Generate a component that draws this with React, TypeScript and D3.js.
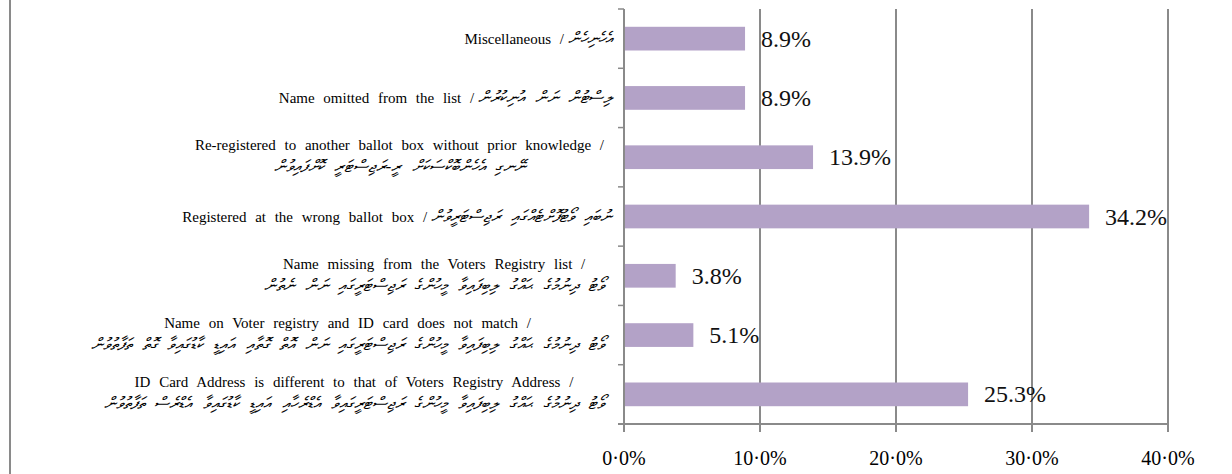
import React, { useEffect, useRef } from "react";
import * as d3 from "d3";

// top to bottom, as drawn
const categories = [
  "Miscellaneous",
  "Name omitted",
  "Re-registered",
  "Wrong ballot box",
  "Name missing",
  "Name mismatch",
  "Address different",
];

const labelLines = [
  ["Miscellaneous / ", "އެހެނިހެން"],
  ["Name omitted from the list / ", "ލިސްޓުން ނަން އުނިކުރުން"],
  [
    "Re-registered to another ballot box without prior knowledge /",
    "ނޭނގި އެހެންބޮކްސަކަށް ރީ-ރަޖިސްޓަރީ ކޮށްފައިވުން",
  ],
  ["Registered at the wrong ballot box /", "ނުބައި ވޯޓުފޮށްޓެއްގައި ރަޖިސްޓަރީވުން"],
  [
    "Name missing from the Voters Registry  list /",
    "ވޯޓު ދިނުމުގެ ޙައްގު ލިބިފައިވާ މީހުންގެ ރަޖިސްޓަރީގައި ނަން ނެތުން",
  ],
  [
    "Name on Voter registry and ID card does not match /",
    "ވޯޓު ދިނުމުގެ ޙައްގު ލިބިފައިވާ މީހުންގެ ރަޖިސްޓަރީގައި ނަން އޮތް ގޮތާއި އައިޑީ ކާޑުގައިވާ ގޮތް ތަފާތުވުން",
  ],
  [
    "ID Card Address is different to that of Voters Registry Address /",
    "ވޯޓު ދިނުމުގެ ޙައްގު ލިބިފައިވާ މީހުންގެ ރަޖިސްޓަރީގައިވާ އެޑްރެހާއި އައިޑީ ކާޑުގައިވާ އެޑްރެސް ތަފާތުވުން",
  ],
];
// which labels put the English and Dhivehi parts on one line
const singleLine = [true, true, false, true, false, false, false];

const values = [8.9, 8.9, 13.9, 34.2, 3.8, 5.1, 25.3];
const xTicks = [0, 10, 20, 30, 40];

const W = 1232, H = 474;
const serif = "Liberation Serif, Times New Roman, serif";
const thaanaFont = "DejaVu Sans, Noto Sans, sans-serif";
const grey = "#8a8a8a";

export default function App() {
  const ref = useRef<SVGSVGElement>(null);

  useEffect(() => {
    const svg = d3.select(ref.current);
    svg.selectAll("*").remove();

    const x = d3.scaleLinear().domain([0, 40]).range([624, 1168]);
    const y = d3.scaleBand().domain(categories).range([9, 424]).paddingInner(0.6).paddingOuter(0.3);
    const step = y.step();

    // outer frame line on the left
    svg.append("line")
      .attr("x1", 10).attr("x2", 10).attr("y1", 0).attr("y2", H)
      .attr("stroke", grey).attr("stroke-width", 2);

    // vertical gridlines + ticks below axis
    svg.append("g").selectAll("line")
      .data(xTicks)
      .join("line")
      .attr("x1", d => x(d)).attr("x2", d => x(d))
      .attr("y1", 9).attr("y2", 432)
      .attr("stroke", grey).attr("stroke-width", 2);

    // x axis line
    svg.append("line")
      .attr("x1", x(0) - 6).attr("x2", x(40)).attr("y1", 424).attr("y2", 424)
      .attr("stroke", grey).attr("stroke-width", 2);

    // y axis ticks at band boundaries
    svg.append("g").selectAll("line")
      .data(d3.range(categories.length + 1))
      .join("line")
      .attr("x1", x(0) - 6).attr("x2", x(0))
      .attr("y1", i => 9 + i * step).attr("y2", i => 9 + i * step)
      .attr("stroke", grey).attr("stroke-width", 1.5);

    // tick labels
    svg.append("g").selectAll("text")
      .data(xTicks)
      .join("text")
      .attr("x", d => x(d)).attr("y", 465)
      .attr("text-anchor", "middle")
      .attr("font-family", serif).attr("font-size", 20)
      .text(d => d.toFixed(1).replace(".", "·") + "%");

    // bars
    svg.append("g").selectAll("rect")
      .data(values)
      .join("rect")
      .attr("x", x(0) + 1)
      .attr("y", (d, i) => y(categories[i])!)
      .attr("width", d => x(d) - x(0) - 1)
      .attr("height", y.bandwidth())
      .attr("fill", "#b3a2c7");

    // value labels
    svg.append("g").selectAll("text")
      .data(values)
      .join("text")
      .attr("x", d => x(d) + 16)
      .attr("y", (d, i) => y(categories[i])! + y.bandwidth() / 2 + 8)
      .attr("font-family", serif).attr("font-size", 24)
      .attr("fill", "#111")
      .text(d => d.toFixed(1) + "%");

    // category labels
    labelLines.forEach((lines, i) => {
      const cy = y(categories[i])! + y.bandwidth() / 2;
      const g = svg.append("g");
      if (singleLine[i]) {
        const right = 612;
        const dv = g.append("text")
          .attr("x", right).attr("y", cy + 5)
          .attr("text-anchor", "end")
          .attr("font-family", thaanaFont).attr("font-size", 17)
          .attr("font-style", "italic")
          .attr("word-spacing", 5)
          .text(lines[1]);
        const dw = (dv.node() as SVGTextElement).getComputedTextLength();
        g.append("text")
          .attr("x", right - dw - 4).attr("y", cy + 5)
          .attr("text-anchor", "end")
          .attr("font-family", serif).attr("font-size", 15)
          .attr("word-spacing", 5)
          .text(lines[0]);
      } else {
        const right = 604;
        const texts = lines.map((l, j) =>
          g.append("text")
            .attr("y", cy + (j === 0 ? -7 : 15))
            .attr("text-anchor", "middle")
            .attr("font-family", j === 0 ? serif : thaanaFont)
            .attr("font-size", j === 0 ? 15 : 17)
            .attr("font-style", j === 0 ? "normal" : "italic")
            .attr("word-spacing", 5)
            .text(l)
        );
        const widths = texts.map(t => (t.node() as SVGTextElement).getComputedTextLength());
        const cx = right - d3.max(widths)! / 2;
        texts.forEach(t => t.attr("x", cx));
      }
    });
  }, []);

  return (
    <svg ref={ref} width={W} height={H} style={{ position: "absolute", left: 0, top: 0, background: "#fff" }} />
  );
}
